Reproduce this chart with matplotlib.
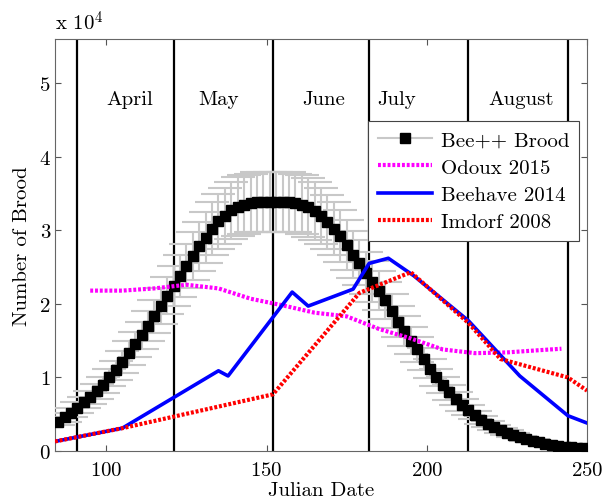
import numpy as np
import matplotlib
matplotlib.use("Agg")
import matplotlib.pyplot as plt
from matplotlib.ticker import FuncFormatter
from matplotlib.lines import Line2D

plt.rcParams['font.family'] = ['cmr10', 'DejaVu Serif']
plt.rcParams['mathtext.fontset'] = 'cm'
plt.rcParams['axes.unicode_minus'] = False
plt.rcParams['axes.formatter.use_mathtext'] = True

# ---- data ----
bee_days = list(range(85, 250, 2))
bee_brood = [4000, 4600, 5200, 5900, 6600, 7300, 8100, 9000, 10000, 11000,
             12100, 13300, 14500, 15700, 17000, 18300, 19700, 21100, 22400, 23800,
             25100, 26500, 27800, 29000, 30200, 31200, 32000, 32700, 33200, 33500,
             33700, 33800, 33800, 33800, 33800, 33800, 33800, 33700, 33500, 33100,
             32600, 31900, 31100, 30200, 29200, 28000, 26700, 25600, 24200, 23000,
             21800, 20500, 19000, 17600, 16300, 15000, 13800, 12500, 11200, 10000,
             9000, 8000, 7100, 6300, 5600, 4900, 4200, 3700, 3200, 2800,
             2500, 2200, 1900, 1600, 1400, 1200, 1000, 850, 700, 600,
             500, 400, 350]
bee_err = [500, 600, 600, 700, 800, 900, 1000, 1100, 1200, 1300,
           1500, 1600, 1700, 1900, 2000, 2200, 2400, 2500, 2700, 2900,
           3000, 3200, 3300, 3500, 3600, 3700, 3800, 3900, 4000, 4000,
           4000, 4100, 4100, 4100, 4100, 4100, 4100, 4000, 4000, 4000,
           3900, 3800, 3700, 3600, 3500, 3400, 3200, 3100, 2900, 2800,
           2600, 2500, 2300, 2100, 2000, 1800, 1700, 1500, 1300, 1200,
           1100, 1000, 900, 800, 700, 600, 500, 400, 400, 300,
           300, 300, 200, 200, 200, 100, 100, 100, 100, 100,
           100, 0, 0]

odoux_days = [95, 105, 115, 125, 135, 145, 155, 165, 175, 185, 195, 205, 215, 225, 235, 242]
odoux_brood = [21800, 21800, 22100, 22600, 22100, 20700, 19800, 18800, 18300, 16600,
               15300, 13800, 13300, 13400, 13700, 13900]

beehave_days = [84, 105, 135, 138, 158, 163, 177, 182, 188, 196, 213, 229, 244, 250]
beehave_brood = [1300, 3100, 10900, 10200, 21600, 19700, 22000, 25500, 26200, 23800,
                 17700, 10200, 4800, 3800]

imdorf_days = [84, 105, 152, 179, 195, 213, 223, 244, 250]
imdorf_brood = [1300, 3100, 7700, 21500, 24300, 17400, 12500, 10000, 8200]

month_bounds = [91, 121, 152, 182, 213, 244]
month_names = ['April', 'May', 'June', 'July', 'August']
month_label_x = [107.4, 135.0, 167.8, 190.6, 229.3]

# ---- figure ----
fig = plt.figure(figsize=(6.04, 5.02), dpi=100)
ax = fig.add_axes([0.091, 0.0996, 0.881, 0.8207])

for d in month_bounds:
    ax.axvline(d, color='black', lw=1.6, zorder=1)

ax.errorbar(bee_days, bee_brood, yerr=bee_err, color='#c8c8c8', ecolor='#c8c8c8',
            elinewidth=1.5, capsize=12, capthick=1.5, lw=1.5,
            marker='s', markersize=7, markerfacecolor='black', markeredgecolor='black',
            zorder=3)
ax.plot(odoux_days, odoux_brood, color='magenta', lw=3, linestyle=(0, (0.7, 0.45)),
        zorder=4)
ax.plot(beehave_days, beehave_brood, color='blue', lw=2.6, zorder=4)
ax.plot(imdorf_days, imdorf_brood, color='red', lw=3, linestyle=(0, (0.7, 0.45)),
        zorder=5)

for name, xm in zip(month_names, month_label_x):
    ax.text(xm, 47800, name, ha='center', va='center', fontsize=15)

ax.set_xlim(84, 250)
ax.set_ylim(0, 56000)
ax.set_xticks([100, 150, 200, 250])
ax.set_yticks([0, 10000, 20000, 30000, 40000, 50000])
ax.yaxis.set_major_formatter(FuncFormatter(lambda v, p: '%d' % round(v / 10000)))
ax.tick_params(direction='in', top=True, right=True, labelsize=15, length=4,
               color='#555555', width=0.8)
ax.tick_params(axis='x', pad=7)
for s in ax.spines.values():
    s.set_color('#666666')
    s.set_linewidth(0.8)

ax.set_xlabel('Julian Date', fontsize=15, labelpad=2)
ax.set_ylabel('Number of Brood', fontsize=15, labelpad=6)
ax.text(0.0, 1.012, r'x $10^{4}$', transform=ax.transAxes, fontsize=15,
        ha='left', va='bottom')

handles = [
    Line2D([], [], color='#c8c8c8', lw=1.5, marker='s', markersize=7,
           markerfacecolor='black', markeredgecolor='black'),
    Line2D([], [], color='magenta', lw=3, linestyle=(0, (0.7, 0.45))),
    Line2D([], [], color='blue', lw=2.6),
    Line2D([], [], color='red', lw=3, linestyle=(0, (0.7, 0.45))),
]
labels = ['Bee++ Brood', 'Odoux 2015', 'Beehave 2014', 'Imdorf 2008']
leg = ax.legend(handles, labels, loc='upper right', bbox_to_anchor=(0.985, 0.80),
                fontsize=15, fancybox=False, framealpha=1, edgecolor='#444444',
                handlelength=2.6, handletextpad=0.45, labelspacing=0.42,
                borderpad=0.45, borderaxespad=0)
leg.get_frame().set_linewidth(0.8)

fig.savefig('out.png', dpi=100)
